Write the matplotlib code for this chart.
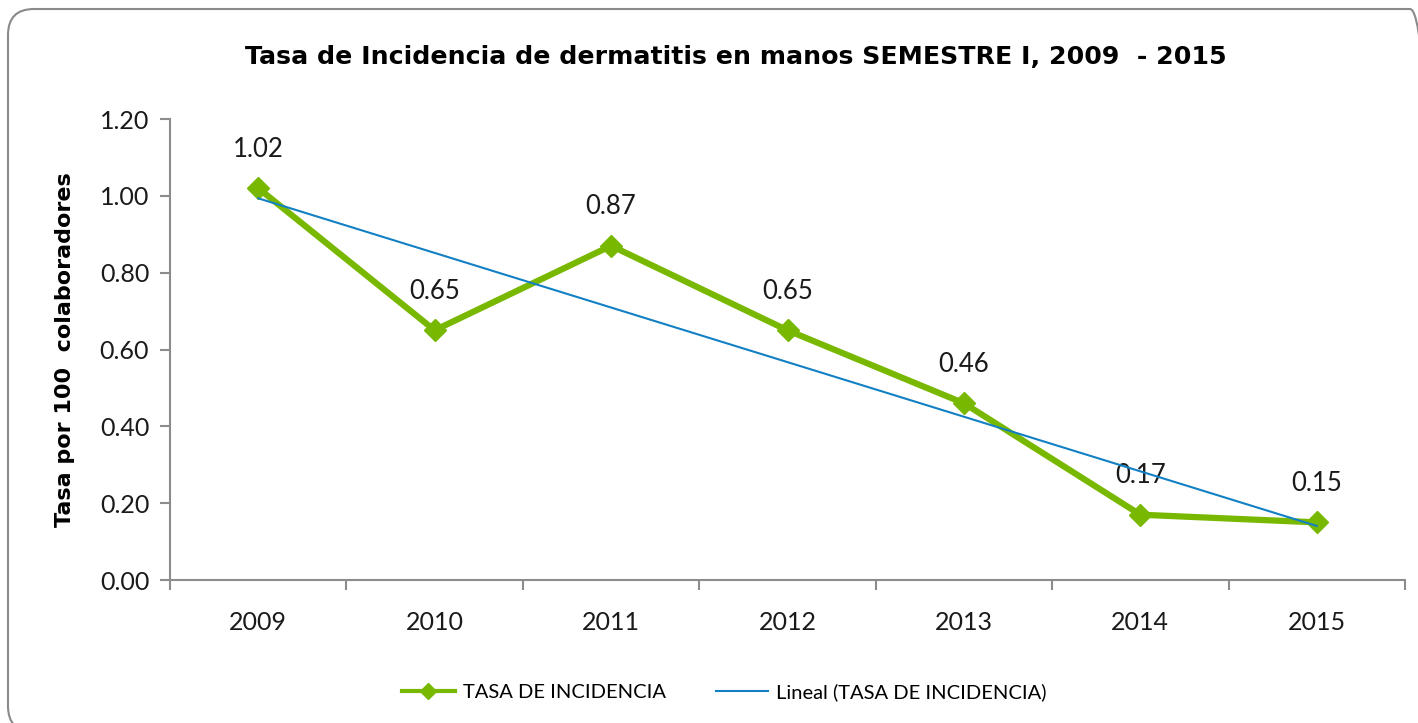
import numpy as np
import matplotlib
matplotlib.use("Agg")
import matplotlib.pyplot as plt
from matplotlib.patches import FancyBboxPatch
from matplotlib.lines import Line2D
from matplotlib.transforms import IdentityTransform

years = ["2009", "2010", "2011", "2012", "2013", "2014", "2015"]
tasa = [1.02, 0.65, 0.87, 0.65, 0.46, 0.17, 0.15]
yticks = [0.0, 0.2, 0.4, 0.6, 0.8, 1.0, 1.2]

plt.rcParams['font.family'] = ['Lato', 'DejaVu Sans']

fig = plt.figure(figsize=(14.18, 7.23), dpi=100)
ax = fig.add_axes([170/1418, 1-580/723, (1405-170)/1418, (580-119)/723])

x = np.arange(len(years))
green = "#78B800"
blue = "#1380C4"
gray = "#8C8C8C"

coef = np.polyfit(x, tasa, 1)
trend = np.polyval(coef, x)

ax.plot(x, tasa, color=green, lw=4.5, marker='D', ms=11, zorder=3)
ax.plot(x, trend, color=blue, lw=1.5, zorder=4)

for xi, v in zip(x, tasa):
    ax.annotate(f"{v:.2f}", (xi, v), xytext=(0, 19), textcoords='offset points',
                ha='center', va='bottom', fontsize=18.5, color='#1a1a1a')

ax.set_xlim(-0.5, len(years) - 0.5)
ax.set_ylim(0, 1.2)
ax.set_yticks(yticks)
ax.set_yticklabels([f"{t:.2f}" for t in yticks], fontsize=18)
ax.set_xticks(x)
ax.set_xticklabels(years, fontsize=18)
ax.set_xticks(np.arange(-0.5, len(years), 1.0), minor=True)
ax.tick_params(axis='x', which='major', length=0, pad=22, colors='#1a1a1a')
ax.tick_params(axis='x', which='minor', length=7, color=gray, width=1.5, direction='out')
ax.tick_params(axis='y', length=7, color=gray, width=1.5, direction='out', pad=8, labelcolor='#1a1a1a')

for s in ['top', 'right']:
    ax.spines[s].set_visible(False)
for s in ['left', 'bottom']:
    ax.spines[s].set_color(gray)
    ax.spines[s].set_linewidth(1.5)

ax.set_ylabel("Tasa por 100  colaboradores", fontsize=16, fontweight='bold',
              family=['DejaVu Sans'], labelpad=18)

fig.text(0.519, 1-57/723, "Tasa de Incidencia de dermatitis en manos SEMESTRE I, 2009  - 2015",
         ha='center', va='center', fontsize=18.2, fontweight='bold', family=['DejaVu Sans'])

handles = [Line2D([], [], color=green, lw=3, marker='D', ms=8),
           Line2D([], [], color=blue, lw=1.5)]
fig.legend(handles, ["TASA DE INCIDENCIA", "Lineal (TASA DE INCIDENCIA)"],
           loc='center', bbox_to_anchor=(0.511, 1-692/723), ncol=2, frameon=False,
           fontsize=14.5, handlelength=2.6, columnspacing=2.5, handletextpad=0.4)

border = FancyBboxPatch((8, -9), 1436 - 8, 723 - 9 + 9,
                        boxstyle="round,pad=0,rounding_size=26",
                        transform=IdentityTransform(), fill=False, ec="#8A8A8A", lw=1.5)
fig.patches.append(border)

fig.savefig("out.png", dpi=100)
